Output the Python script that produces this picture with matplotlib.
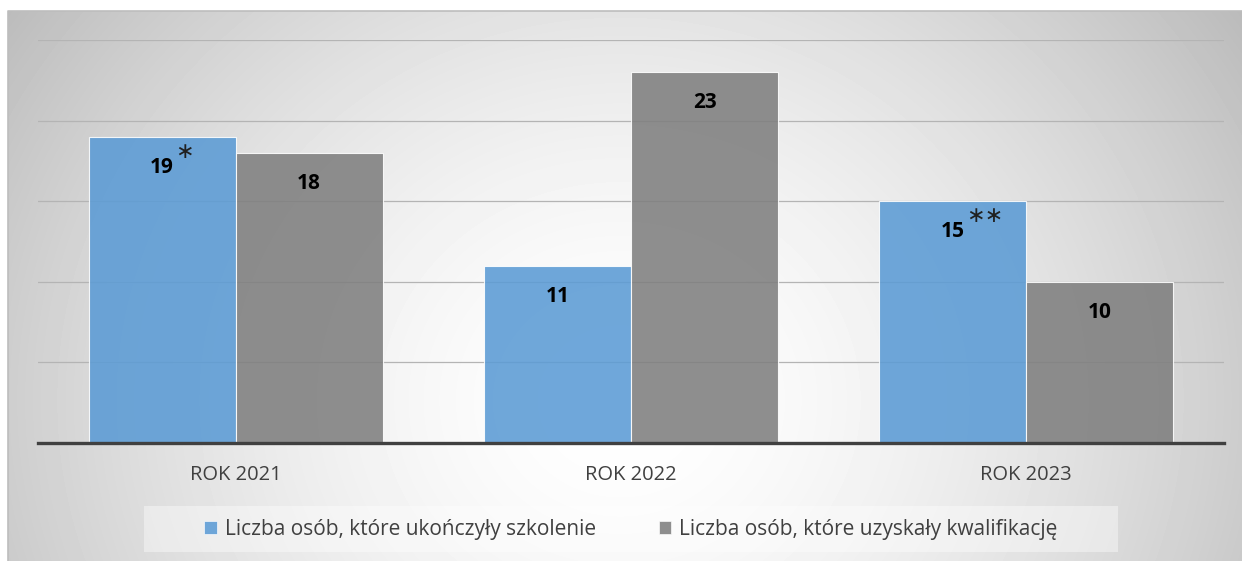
import numpy as np
import matplotlib
matplotlib.use('Agg')
import matplotlib.pyplot as plt
from matplotlib.patches import Patch, Rectangle

# dane
lata = ['ROK 2021', 'ROK 2022', 'ROK 2023']
ukonczyly = [19, 11, 15]
uzyskaly = [18, 23, 10]
gwiazdki = ['*', '', '**']
seria1 = 'Liczba osób, które ukończyły szkolenie'
seria2 = 'Liczba osób, które uzyskały kwalifikację'

W, H = 1242, 561
plt.rcParams['font.family'] = ['Open Sans', 'DejaVu Sans']
fig = plt.figure(figsize=(W / 100, H / 100), dpi=100)

# tlo z gradientem radialnym
bg = fig.add_axes([0, 0, 1, 1], zorder=-10)
bg.set_xlim(0, W)
bg.set_ylim(H, 0)
bg.axis('off')
yy, xx = np.mgrid[11:H + 5, 8:W + 5]
r = np.sqrt((xx - 620.0) ** 2 + ((yy - 400.0) * 1.1) ** 2) / 740.0
g = 1 - 0.26 * np.clip(r, 0, 1.2) ** 1.6
bg.imshow(g, cmap='gray', vmin=0, vmax=1, extent=[8, W + 5, H + 5, 11], aspect='auto')
bg.plot([8, 8, W + 5], [H + 5, 11, 11], color='#bdbdbd', lw=1.2)

ax = fig.add_axes([38 / W, 1 - 443 / H, 1186 / W, 403 / H])
ax.set_facecolor('none')
x = np.arange(len(lata))
w = 0.372
b1 = ax.bar(x - w / 2, ukonczyly, w, color='#5b9bd5', alpha=0.88, edgecolor='white', linewidth=0.8, zorder=2)
b2 = ax.bar(x + w / 2, uzyskaly, w, color='#7f7f7f', alpha=0.88, edgecolor='white', linewidth=0.8, zorder=2)

ax.set_xlim(-0.5, 2.5)
ax.set_ylim(0, 25)
ax.set_yticks([5, 10, 15, 20, 25])
ax.yaxis.grid(True, color='#b4b4b4', lw=0.9, zorder=1)
ax.set_axisbelow(True)
ax.tick_params(axis='y', left=False, labelleft=False)
ax.set_xticks(x)
ax.set_xticklabels(lata, fontsize=14.5, color='#404040')
ax.tick_params(axis='x', length=0, pad=16)
for s in ['left', 'right', 'top']:
    ax.spines[s].set_visible(False)
ax.spines['bottom'].set_color('#404040')
ax.spines['bottom'].set_linewidth(2.4)
ax.spines['bottom'].set_zorder(3)

for bars, vals, stars in [(b1, ukonczyly, gwiazdki), (b2, uzyskaly, ['', '', ''])]:
    for rect, v, st in zip(bars, vals, stars):
        cx = rect.get_x() + rect.get_width() / 2
        t = ax.annotate(str(v), (cx, v), xytext=(0, -26), textcoords='offset points',
                        ha='center', va='baseline', fontsize=15, fontweight='bold', color='black', zorder=4)
        if st:
            ax.annotate(st.replace('*', '\u2217'), xy=(1, 1), xycoords=t, xytext=(1, 11),
                        textcoords='offset points', ha='left', va='top', fontsize=16,
                        family='DejaVu Sans', color='#202020', zorder=4)

# legenda
fig.patches.append(Rectangle((144 / W, 1 - 552 / H), (1118 - 144) / W, 46 / H,
                             transform=fig.transFigure, facecolor='white', alpha=0.4,
                             edgecolor='none', zorder=-5))
uchwyty = [Patch(facecolor='#5b9bd5', alpha=0.88, edgecolor='white', lw=0.5),
           Patch(facecolor='#7f7f7f', alpha=0.88, edgecolor='white', lw=0.5)]
fig.legend(uchwyty, [seria1, seria2], loc='center', bbox_to_anchor=(631 / W, 1 - 529 / H),
           ncol=2, frameon=False, fontsize=15, labelcolor='#404040',
           handlelength=0.6, handleheight=0.6, handletextpad=0.4, columnspacing=3.0)

fig.savefig('out.png', dpi=100)
